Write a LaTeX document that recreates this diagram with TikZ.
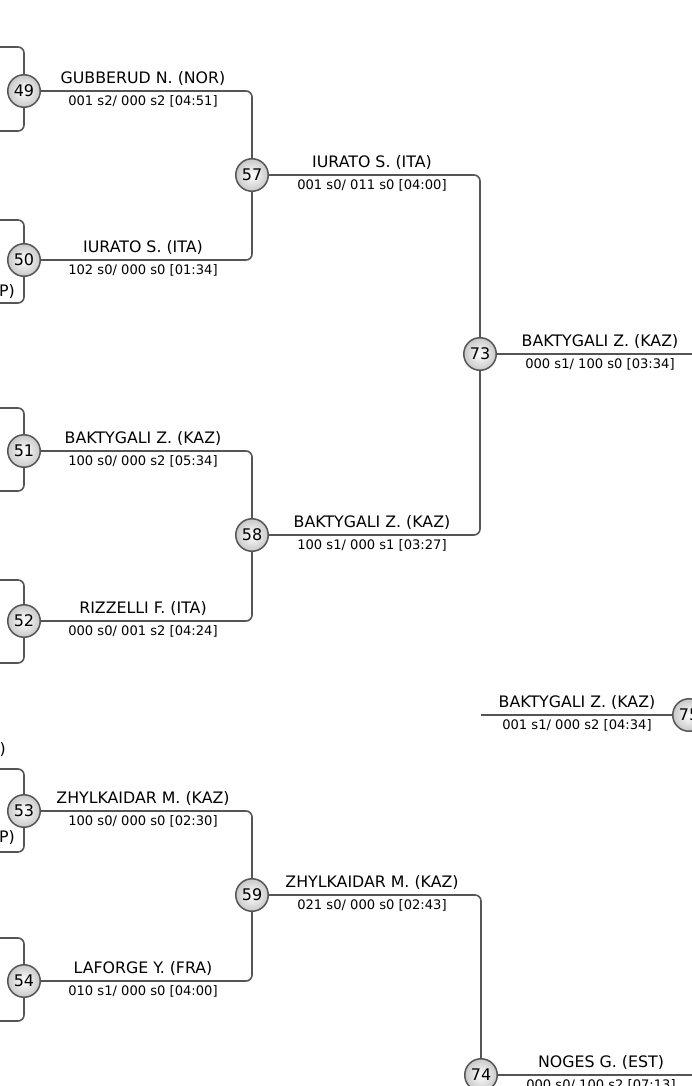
\documentclass[tikz,border=0pt]{standalone}
\usepackage{fontspec}
\setmainfont{DejaVu Sans}
\definecolor{lg}{HTML}{555555}
\definecolor{cg}{HTML}{C8C8C8}
\tikzset{
  mnode/.style={circle, draw=lg, line width=1.5pt, minimum size=32.5pt, inner sep=0pt,
    inner color=white, outer color=cg, font=\fontsize{16}{16}\selectfont},
  conn/.style={draw=lg, line width=1.6pt, rounded corners=6pt},
  nm/.style={font=\fontsize{15.8}{15.8}\selectfont, inner sep=0pt},
  sc/.style={font=\fontsize{13.1}{13.1}\selectfont, inner sep=0pt},
}
\begin{document}
\begin{tikzpicture}[x=1pt,y=-1pt]
\useasboundingbox (0,0) rectangle (692,1086);
\clip (0,0) rectangle (692,1086);
% nodes
\node[mnode] (n49) at (24,91) {49};
\node[mnode] (n50) at (24,260) {50};
\node[mnode] (n51) at (24,451) {51};
\node[mnode] (n52) at (24,621) {52};
\node[mnode] (n53) at (24,811) {53};
\node[mnode] (n54) at (24,981) {54};
\node[mnode] (n57) at (252,175) {57};
\node[mnode] (n58) at (252,535) {58};
\node[mnode] (n59) at (252,895) {59};
\node[mnode] (n73) at (480,354) {73};
\node[mnode] (n74) at (481,1075) {74};
\node[mnode] (n75) at (689,715) {75};
% free ends
\coordinate (l49t) at (-10,47);  \coordinate (l49b) at (-10,131);
\coordinate (l50t) at (-10,220); \coordinate (l50b) at (-10,303);
\coordinate (l51t) at (-10,408); \coordinate (l51b) at (-10,491);
\coordinate (l52t) at (-10,580); \coordinate (l52b) at (-10,663);
\coordinate (l53t) at (-10,769); \coordinate (l53b) at (-10,852);
\coordinate (l54t) at (-10,938); \coordinate (l54b) at (-10,1021);
\coordinate (r73) at (710,354);
\coordinate (r74) at (710,1075);
\coordinate (s75) at (481,715);
% connectors
\foreach \n in {49,50,51,52,53,54}{
  \draw[conn] (n\n) |- (l\n t);
  \draw[conn] (n\n) |- (l\n b);
}
\draw[conn] (n49) -| (n57);
\draw[conn] (n50) -| (n57);
\draw[conn] (n51) -| (n58);
\draw[conn] (n52) -| (n58);
\draw[conn] (n53) -| (n59);
\draw[conn] (n54) -| (n59);
\draw[conn] (n57) -| (n73);
\draw[conn] (n58) -| (n73);
\draw[conn] (n59) -| (n74);
\draw[conn] (n73) -- (r73);
\draw[conn] (n74) -- (r74);
\draw[conn] (s75) -- (n75);
% labels
\node[nm] (t49) at (143,79) {GUBBERUD N. (NOR)};
\node[sc] (u49) at (143,101.5) {001 s2/ 000 s2 [04:51]};
\node[nm] (t50) at (143,248) {IURATO S. (ITA)};
\node[sc] (u50) at (143,270.5) {102 s0/ 000 s0 [01:34]};
\node[nm] (t51) at (143,439) {BAKTYGALI Z. (KAZ)};
\node[sc] (u51) at (143,461.5) {100 s0/ 000 s2 [05:34]};
\node[nm] (t52) at (143,609) {RIZZELLI F. (ITA)};
\node[sc] (u52) at (143,631.5) {000 s0/ 001 s2 [04:24]};
\node[nm] (t53) at (143,799) {ZHYLKAIDAR M. (KAZ)};
\node[sc] (u53) at (143,821.5) {100 s0/ 000 s0 [02:30]};
\node[nm] (t54) at (143,969) {LAFORGE Y. (FRA)};
\node[sc] (u54) at (143,991.5) {010 s1/ 000 s0 [04:00]};
\node[nm] (t57) at (372,163) {IURATO S. (ITA)};
\node[sc] (u57) at (372,185.5) {001 s0/ 011 s0 [04:00]};
\node[nm] (t58) at (372,523) {BAKTYGALI Z. (KAZ)};
\node[sc] (u58) at (372,545.5) {100 s1/ 000 s1 [03:27]};
\node[nm] (t59) at (372,883) {ZHYLKAIDAR M. (KAZ)};
\node[sc] (u59) at (372,905.5) {021 s0/ 000 s0 [02:43]};
\node[nm] (t73) at (600,342) {BAKTYGALI Z. (KAZ)};
\node[sc] (u73) at (600,364.5) {000 s1/ 100 s0 [03:34]};
\node[nm] (t74) at (601,1063) {NOGES G. (EST)};
\node[sc] (u74) at (601,1085.5) {000 s0/ 100 s2 [07:13]};
\node[nm] (t75) at (577,703) {BAKTYGALI Z. (KAZ)};
\node[sc] (u75) at (577,725.5) {001 s1/ 000 s2 [04:34]};
% partial texts at left edge
\node[nm, anchor=east] (p50) at (15,292) {P)};
\node[nm, anchor=east] (p53a) at (6,750) {)};
\node[nm, anchor=east] (p53b) at (15,838) {P)};
\end{tikzpicture}
\end{document}
